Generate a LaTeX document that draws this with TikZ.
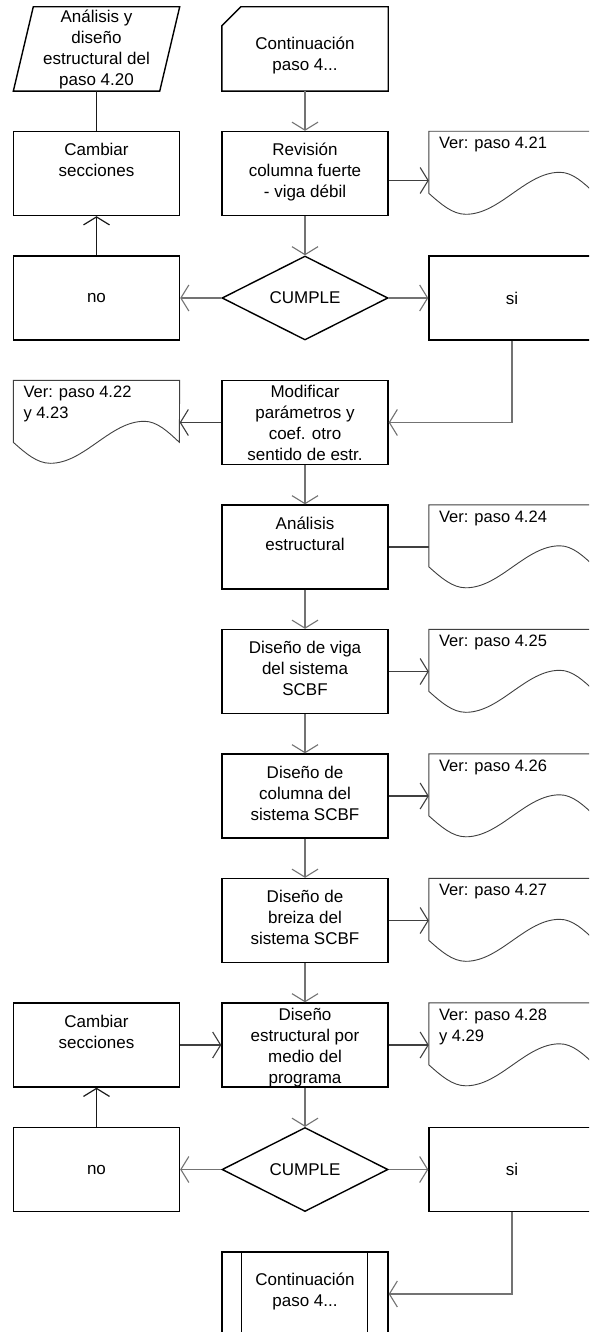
\documentclass[tikz,border=0pt]{standalone}
\usepackage{fontspec}
\setmainfont{Liberation Sans}
\usetikzlibrary{arrows.meta,shapes.geometric,calc}
\newcommand\mainfnt{\fontsize{17pt}{21pt}\selectfont}
\newcommand\docfnt{\fontsize{16.5pt}{21pt}\selectfont}
\newcommand\tb[2]{\parbox[c][84pt][t]{164pt}{\centering\rule{0pt}{#1pt}#2\par}}
\newcommand\dt[1]{\parbox[c][84pt][t]{146pt}{\raggedright\rule{0pt}{17pt}#1\par}}
\tikzset{
  box/.style={draw=black, line width=1.4pt, rectangle, minimum width=166pt, minimum height=84pt, inner sep=0pt, font=\mainfnt},
  ghost/.style={rectangle, minimum width=166pt, minimum height=84pt, inner sep=0pt, font=\mainfnt},
  docnode/.style={ghost, font=\docfnt},
  dec/.style={draw=black, line width=1.4pt, diamond, aspect=2, minimum width=166pt, minimum height=84pt, inner sep=0pt, font=\mainfnt},
  outline/.style={draw=black, line width=1.4pt},
  docline/.style={draw=black!75, line width=0.9pt},
  conn/.style={draw=black!55, line width=1.1pt},
  hconn/.style={draw=black!75, line width=1.1pt},
  darkconn/.style={draw=black!90, line width=1.2pt},
  tip/.style={-{Straight Barb[length=8pt,width=26pt]}},
}
\begin{document}
\begin{tikzpicture}[x=1pt,y=-1pt]
\useasboundingbox (0,0) rectangle (589,1332);
\fill[white] (0,0) rectangle (589,1332);
\clip (0,0) rectangle (589,1332);
% row 0
\node[ghost] (par) at (96.5,49) {\tb{16}{Análisis y\\diseño\\estructural del\\paso 4.20}};
\draw[outline] ($(par.north west)+(20,0)$) -- (par.north east) -- ($(par.south east)-(20,0)$) -- (par.south west) -- cycle;
\node[ghost] (card) at (305,49) {\tb{43}{Continuación\\paso 4...}};
\draw[outline] ($(card.north west)+(0,19)$) -- ($(card.north west)+(19,0)$) -- (card.north east) -- (card.south east) -- (card.south west) -- cycle;
% row 1
\node[box] (cam1) at (96.5,173.5) {\tb{24}{Cambiar\\secciones}};
\node[box] (rev) at (305,173.5) {\tb{24}{Revisión\\columna fuerte\\- viga débil}};
\node[docnode] (d1) at (512,173.5) {\dt{Ver: paso 4.21}};
% row 2
\node[box] (no1) at (96.5,298) {no};
\node[dec] (dec1) at (305,298) {CUMPLE};
\node[box] (si1) at (512,298) {si};
% row 3
\node[docnode] (d22) at (96.5,422.5) {\dt{Ver: paso 4.22\\y 4.23}};
\node[box] (mod) at (305,422.5) {\tb{17}{Modificar\\parámetros y\\coef. otro\\sentido de estr.}};
% row 4
\node[box] (ana) at (305,547) {\tb{24}{Análisis\\estructural}};
\node[docnode] (d24) at (512,547) {\dt{Ver: paso 4.24}};
% row 5
\node[box] (viga) at (305,671.5) {\tb{24}{Diseño de viga\\del sistema\\SCBF}};
\node[docnode] (d25) at (512,671.5) {\dt{Ver: paso 4.25}};
% row 6
\node[box] (col) at (305,796) {\tb{24}{Diseño de\\columna del\\sistema SCBF}};
\node[docnode] (d26) at (512,796) {\dt{Ver: paso 4.26}};
% row 7
\node[box] (bre) at (305,920.5) {\tb{24}{Diseño de\\breiza del\\sistema SCBF}};
\node[docnode] (d27) at (512,920.5) {\dt{Ver: paso 4.27}};
% row 8
\node[box] (cam2) at (96.5,1045) {\tb{24}{Cambiar\\secciones}};
\node[box] (dis) at (305,1045) {\tb{17}{Diseño\\estructural por\\medio del\\programa}};
\node[docnode] (d28) at (512,1045) {\dt{Ver: paso 4.28\\y 4.29}};
% row 9
\node[box] (no2) at (96.5,1169.5) {no};
\node[dec] (dec2) at (305,1169.5) {CUMPLE};
\node[box] (si2) at (512,1169.5) {si};
% row 10
\node[box] (cont2) at (305,1294) {\tb{33}{Continuación\\paso 4...}};
\draw[outline] ($(cont2.north west)+(20,0)$) -- ($(cont2.south west)+(20,0)$);
\draw[outline] ($(cont2.north east)-(21,0)$) -- ($(cont2.south east)-(21,0)$);
% document shapes
\foreach \n in {d1,d22,d24,d25,d26,d27,d28}{
  \draw[docline] ($(\n.north west)+(0,62)$) sin ++(37,21) cos ++(47,-21) sin ++(47,-21) cos ++(35,21) -- (\n.north east) -- (\n.north west) -- cycle;
}
% connectors
\path ([yshift=-7pt]rev.east) coordinate (r1);
\draw[darkconn] (par.south) -- (cam1.north);
\draw[conn,tip] (card.south) -- (rev.north);
\draw[hconn,tip] (r1) -- (r1 -| d1.west);
\draw[conn,tip] (rev.south) -- (dec1.north);
\draw[conn,tip] (dec1.west) -- (no1.east);
\draw[conn,tip] (dec1.east) -- (si1.west);
\draw[darkconn,tip] (no1.north) -- (cam1.south);
\draw[conn,tip] (si1.south) |- (mod.east);
\draw[hconn,tip] (mod.west) -- (d22.east);
\draw[conn,tip] (mod.south) -- (ana.north);
\draw[hconn] (ana.east) -- (d24.west);
\draw[conn,tip] (ana.south) -- (viga.north);
\draw[hconn,tip] (viga.east) -- (d25.west);
\draw[conn,tip] (viga.south) -- (col.north);
\draw[hconn,tip] (col.east) -- (d26.west);
\draw[conn,tip] (col.south) -- (bre.north);
\draw[hconn,tip] (bre.east) -- (d27.west);
\draw[conn,tip] (bre.south) -- (dis.north);
\draw[hconn,tip] (cam2.east) -- (dis.west);
\draw[hconn,tip] (dis.east) -- (d28.west);
\draw[conn,tip] (dis.south) -- (dec2.north);
\draw[conn,tip] (dec2.west) -- (no2.east);
\draw[conn,tip] (dec2.east) -- (si2.west);
\draw[darkconn,tip] (no2.north) -- (cam2.south);
\draw[conn,tip] (si2.south) |- (cont2.east);
\end{tikzpicture}
\end{document}
